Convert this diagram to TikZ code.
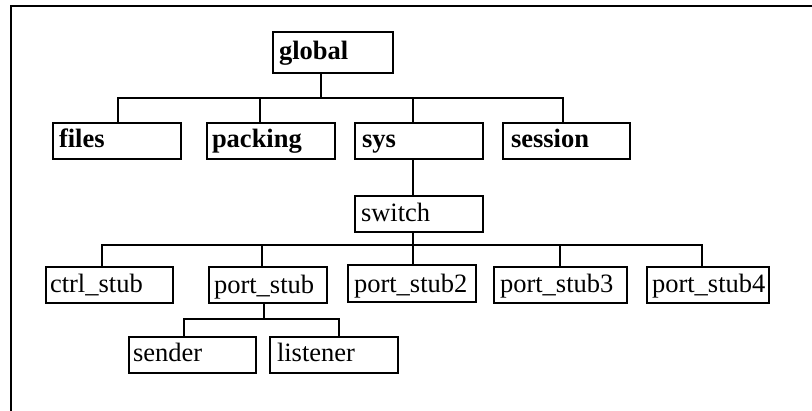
\documentclass[tikz,border=0pt]{standalone}
\usepackage{fontspec}
\setmainfont{Liberation Serif}
\newcommand{\treebox}[9][]{%
  % [font] name x0 y0 x1 y1 textx baseline text
  \pgfmathsetmacro{\tbw}{#5-#3}%
  \pgfmathsetmacro{\tbh}{#8-#4+0.8}%
  \pgfmathsetmacro{\tbd}{#6-#8-0.8}%
  \pgfmathsetmacro{\tbo}{#7-#3}%
  \node[treenode,font=#1,anchor=north west,inner xsep=0pt,
    text width=\tbw pt,text height=\tbh pt,text depth=\tbd pt] (#2) at (#3,#4) {\hspace*{\tbo pt}#9};%
}
\tikzset{
  x=1pt,y=-1pt,
  treenode/.style={draw=black,line width=1.9pt,fill=white,inner ysep=0pt,outer sep=0pt,align=left},
  frameline/.style={draw=black,line width=2.1pt,line cap=butt},
  link/.style={draw=black,line width=1.8pt,line cap=rect}
}
\begin{document}
\begin{tikzpicture}
\useasboundingbox (0,0) rectangle (812,411);
\draw[frameline] (11,411) -- (11,6) -- (812,6);
\def\bff{\fontsize{26.5pt}{30pt}\selectfont\bfseries}
\def\rmf{\fontsize{26.5pt}{30pt}\selectfont}
% boxes
\treebox[\bff]{global}{273}{32}{393}{73}{279}{59}{global}
\treebox[\bff]{files}{53}{123}{181}{159}{59}{147}{files}
\treebox[\bff]{packing}{207}{123}{335}{159}{212}{147}{packing}
\treebox[\bff]{sys}{355}{123}{483}{159}{362}{147}{sys}
\treebox[\bff]{session}{503}{123}{630}{159}{511}{147}{session}
\treebox[\rmf]{switch}{355}{196}{483}{232}{361}{221}{switch}
\treebox[\rmf]{ctrlstub}{46}{267}{173}{303}{50}{292}{ctrl\_stub}
\treebox[\rmf]{portstub}{209}{267}{327}{303}{214}{293}{port\_stub}
\treebox[\rmf]{portstubb}{348}{265}{476}{302}{354}{292}{port\_stub2}
\treebox[\rmf]{portstubc}{494}{267}{627}{303}{500}{292}{port\_stub3}
\treebox[\rmf]{portstubd}{647}{267}{769}{303}{652}{292}{port\_stub4}
\treebox[\rmf]{sender}{129}{337}{256}{373}{133}{361}{sender}
\treebox[\rmf]{listener}{270}{337}{398}{373}{277}{361}{listener}
% bus coordinates
\coordinate (topbus) at (321,98);
\coordinate (a1) at (118,98);
\coordinate (a2) at (260,98);
\coordinate (a3) at (413,98);
\coordinate (a4) at (563,98);
\coordinate (midbus) at (413,245);
\coordinate (b1) at (102,245);
\coordinate (b2) at (262,245);
\coordinate (b4) at (560,245);
\coordinate (b5) at (702,245);
\coordinate (lowbus) at (264,319);
\coordinate (c1) at (184,319);
\coordinate (c2) at (339,319);
% connectors
\draw[link] (global.south -| topbus) -- (topbus);
\draw[link] (files.north -| a1) -- (a1) -- (a4) -- (session.north -| a4);
\draw[link] (packing.north -| a2) -- (a2);
\draw[link] (sys.north -| a3) -- (a3);
\draw[link] (sys.south -| a3) -- (switch.north -| a3);
\draw[link] (switch.south -| midbus) -- (portstubb.north -| midbus);
\draw[link] (ctrlstub.north -| b1) -- (b1) -- (b5) -- (portstubd.north -| b5);
\draw[link] (portstub.north -| b2) -- (b2);
\draw[link] (portstubc.north -| b4) -- (b4);
\draw[link] (portstub.south -| lowbus) -- (lowbus);
\draw[link] (sender.north -| c1) -- (c1) -- (c2) -- (listener.north -| c2);
\end{tikzpicture}
\end{document}
